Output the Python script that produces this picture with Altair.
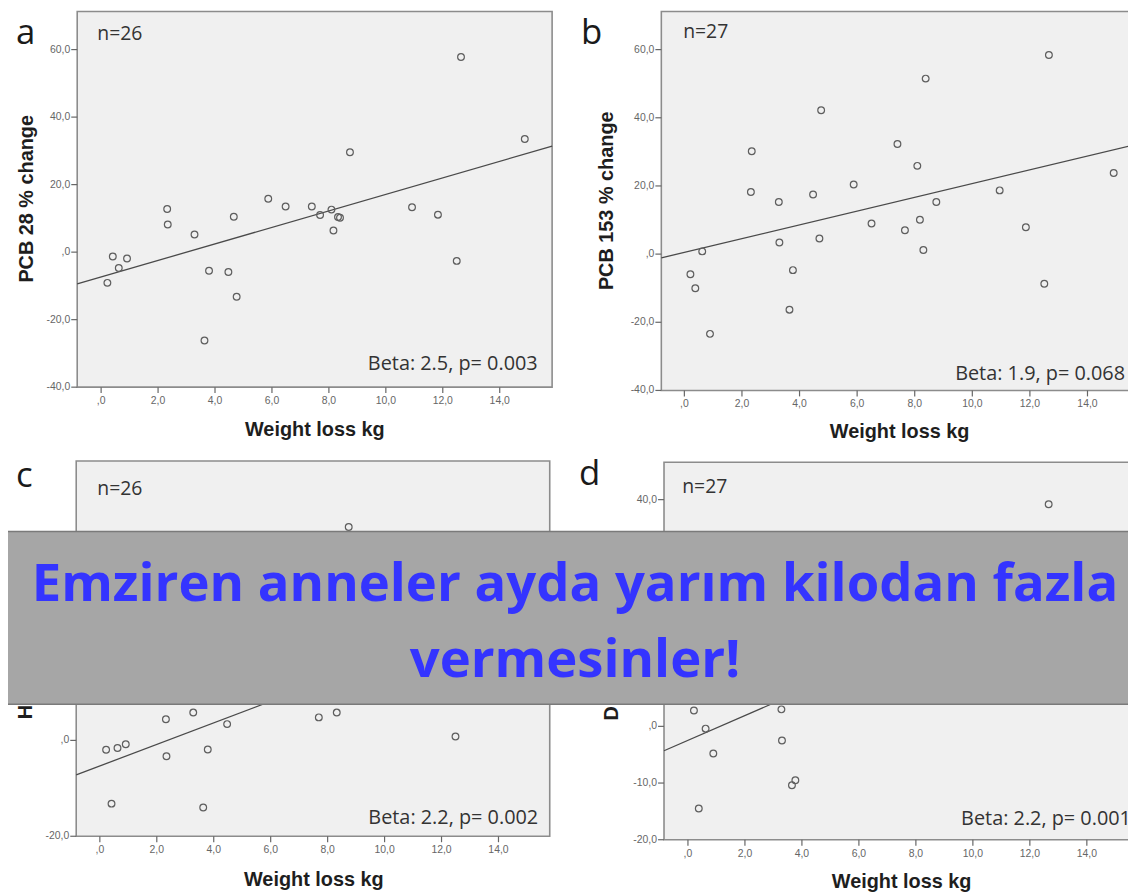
import altair as alt
import pandas as pd

# ---------------- data ----------------
panel_letters = ["a", "b", "c", "d"]
n_labels = ["n=26", "n=27", "n=26", "n=27"]
beta_labels = ["Beta: 2.5, p= 0.003", "Beta: 1.9, p= 0.068",
               "Beta: 2.2, p= 0.002", "Beta: 2.2, p= 0.001"]
y_titles = ["PCB 28 % change", "PCB 153 % change", "HCB % change", "DDE % change"]
x_title = "Weight loss kg"
banner_lines = ["Emziren anneler ayda yarım kilodan fazla", "vermesinler!"]

x_ticks = [0, 2, 4, 6, 8, 10, 12, 14]
x_tick_labels = [",0", "2,0", "4,0", "6,0", "8,0", "10,0", "12,0", "14,0"]
y_ticks_a = [-40, -20, 0, 20, 40, 60]
y_tick_labels_a = ["-40,0", "-20,0", ",0", "20,0", "40,0", "60,0"]
y_ticks_b = [-40, -20, 0, 20, 40, 60]
y_tick_labels_b = ["-40,0", "-20,0", ",0", "20,0", "40,0", "60,0"]
# only the ticks that are not hidden behind the banner
y_ticks_c = [-20, 0]
y_tick_labels_c = ["-20,0", ",0"]
y_ticks_d = [-20, -10, 0, 40]
y_tick_labels_d = ["-20,0", "-10,0", ",0", "40,0"]

a_x = [0.22, 0.41, 0.62, 0.91, 2.32, 2.34, 3.28, 3.63, 3.79, 4.47, 4.66, 4.76, 5.87,
       6.48, 7.40, 7.69, 8.09, 8.16, 8.32, 8.39, 8.74, 10.92, 11.83, 12.49, 12.64, 14.88]
a_y = [-9.1, -1.3, -4.7, -1.9, 12.8, 8.2, 5.2, -26.2, -5.5, -5.9, 10.5, -13.2, 15.8,
       13.5, 13.5, 11.0, 12.6, 6.4, 10.4, 10.2, 29.6, 13.3, 11.1, -2.6, 57.8, 33.5]

b_x = [0.21, 0.38, 0.62, 0.89, 2.34, 2.31, 3.28, 3.30, 3.65, 3.77, 4.47, 4.69, 4.75, 5.88,
       6.50, 7.40, 7.66, 8.09, 8.18, 8.30, 8.38, 8.75, 10.95, 11.86, 12.50, 12.66, 14.91]
b_y = [-5.9, -10.0, 0.8, -23.4, 30.2, 18.2, 15.3, 3.4, -16.3, -4.7, 17.5, 4.6, 42.2, 20.4,
       9.0, 32.3, 7.0, 25.9, 10.1, 1.2, 51.5, 15.3, 18.7, 7.9, -8.7, 58.4, 23.8]

# visible points only (the rest are hidden behind the banner)
c_x = [0.22, 0.41, 0.62, 0.91, 2.32, 2.34, 3.28, 3.63, 3.79, 4.47, 7.69, 8.32, 8.74, 12.49]
c_y = [-1.95, -13.2, -1.6, -0.8, 4.4, -3.3, 5.8, -14.0, -1.9, 3.4, 4.8, 5.8, 44.5, 0.8]

d_x = [0.21, 0.38, 0.62, 0.89, 3.28, 3.30, 3.65, 3.77, 12.66]
d_y = [2.8, -14.5, -0.4, -4.8, 3.0, -2.5, -10.4, -9.5, 39.2]

# fitted regression lines (end points)
fit_a_x = [-0.84, 15.84]
fit_a_y = [-9.4, 31.4]
fit_b_x = [-0.80, 15.80]
fit_b_y = [-1.1, 32.4]
fit_c_x = [-0.83, 15.80]
fit_c_y = [-7.2, 30.2]
fit_d_x = [-0.84, 15.80]
fit_d_y = [-4.3, 32.1]

# ---------------- layout ----------------
W, H = 1128, 888

LABEL_FONT = "Liberation Sans Narrow, Liberation Sans, sans-serif"
TEXT_FONT = "Open Sans, Noto Sans, sans-serif"
TITLE_FONT = "Liberation Sans, Arial, sans-serif"
TICK_LEN = 6

panels = [
    dict(px=a_x, py=a_y, fx=fit_a_x, fy=fit_a_y, yt=y_ticks_a, ytl=y_tick_labels_a,
         xdom=[-0.84, 15.84], ydom=[-40, 71.3], xr=[69.7, 548.0], yr=[378.7, 0.3],
         letter=(8, 33), n=(90, 29), beta=(533.5, 361), ytitle=(25, 189), xtitle=(309, 428)),
    dict(px=b_x, py=b_y, fx=fit_b_x, fy=fit_b_y, yt=y_ticks_b, ytl=y_tick_labels_b,
         xdom=[-0.80, 15.80], ydom=[-40, 71.2], xr=[658.0, 1139.4], yr=[382.0, 0.3],
         letter=(577, 33.5), n=(680, 27), beta=(1125, 371), ytitle=(609, 191), xtitle=(898, 430)),
    dict(px=c_x, py=c_y, fx=fit_c_x, fy=fit_c_y, yt=y_ticks_c, ytl=y_tick_labels_c,
         xdom=[-0.83, 15.80], ydom=[-20, 58.3], xr=[68.7, 545.6], yr=[831.0, 453.0],
         letter=(8, 479), n=(90, 487), beta=(534, 818.5), ytitle=(24, 642), xtitle=(308, 881)),
    dict(px=d_x, py=d_y, fx=fit_d_x, fy=fit_d_y, yt=y_ticks_d, ytl=y_tick_labels_d,
         xdom=[-0.84, 15.80], ydom=[-20, 46.6], xr=[660.7, 1138.2], yr=[834.5, 454.3],
         letter=(575, 477), n=(679, 485), beta=(1131, 820), ytitle=(614.5, 644), xtitle=(900, 883)),
]


def text_layer(label, pos, **kw):
    return alt.Chart(pd.DataFrame({"t": [label]})).mark_text(**kw).encode(
        x=alt.value(pos[0]), y=alt.value(pos[1]), text="t:N")


def build_panel(i, p):
    xs = alt.Scale(domain=p["xdom"], range=p["xr"], nice=False, zero=False)
    ys = alt.Scale(domain=p["ydom"], range=p["yr"], nice=False, zero=False)
    left, bottom = p["xr"][0], p["yr"][0]

    frame_df = pd.DataFrame({"x": [p["xdom"][0]], "x2": [p["xdom"][1]],
                             "y": [p["ydom"][0]], "y2": [p["ydom"][1]]})
    frame = alt.Chart(frame_df).mark_rect(fill="#f0f0f0", stroke="#8c8c8c",
                                          strokeWidth=1.6).encode(
        x=alt.X("x:Q", scale=xs, axis=None), x2="x2:Q",
        y=alt.Y("y:Q", scale=ys, axis=None), y2="y2:Q")

    xt_df = pd.DataFrame({"v": x_ticks, "lab": x_tick_labels})
    xticks = alt.Chart(xt_df).mark_rule(color="#666666", strokeWidth=1.2).encode(
        x=alt.X("v:Q", scale=xs, axis=None),
        y=alt.value(bottom), y2=alt.value(bottom + TICK_LEN))
    xlabels = alt.Chart(xt_df).mark_text(font=LABEL_FONT, fontSize=10.5, color="#666666",
                                         align="center", baseline="top").encode(
        x=alt.X("v:Q", scale=xs, axis=None), y=alt.value(bottom + TICK_LEN + 3),
        text="lab:N")

    yt_df = pd.DataFrame({"v": p["yt"], "lab": p["ytl"]})
    yticks = alt.Chart(yt_df).mark_rule(color="#666666", strokeWidth=1.2).encode(
        y=alt.Y("v:Q", scale=ys, axis=None),
        x=alt.value(left - TICK_LEN), x2=alt.value(left))
    ylabels = alt.Chart(yt_df).mark_text(font=LABEL_FONT, fontSize=10.5, color="#666666",
                                         align="right", baseline="middle").encode(
        y=alt.Y("v:Q", scale=ys, axis=None), x=alt.value(left - TICK_LEN - 1),
        text="lab:N")

    fit = alt.Chart(pd.DataFrame({"x": p["fx"], "y": p["fy"]})).mark_line(
        color="#4a4a4a", strokeWidth=1.3).encode(
        x=alt.X("x:Q", scale=xs, axis=None), y=alt.Y("y:Q", scale=ys, axis=None))

    pts = alt.Chart(pd.DataFrame({"x": p["px"], "y": p["py"]})).mark_point(
        shape="circle", filled=False, size=46, stroke="#5e5e5e", strokeWidth=1.2,
        opacity=1).encode(
        x=alt.X("x:Q", scale=xs, axis=None), y=alt.Y("y:Q", scale=ys, axis=None))

    letter = text_layer(panel_letters[i], p["letter"], font=TEXT_FONT, fontSize=35,
                        color="#1a1a1a", align="left", baseline="alphabetic")
    ntxt = text_layer(n_labels[i], p["n"], font=TEXT_FONT, fontSize=19.5,
                      color="#333333", align="left", baseline="alphabetic")
    beta = text_layer(beta_labels[i], p["beta"], font=TEXT_FONT, fontSize=20,
                      color="#333333", align="right", baseline="alphabetic")
    ytl = text_layer(y_titles[i], p["ytitle"], font=TITLE_FONT, fontSize=20,
                     fontWeight="bold", color="#1e1e1e", align="center",
                     baseline="alphabetic", angle=270)
    xtl = text_layer(x_title, p["xtitle"], font=TITLE_FONT, fontSize=20,
                     fontWeight="bold", color="#1e1e1e", align="center",
                     baseline="alphabetic")
    return alt.layer(frame, xticks, xlabels, yticks, ylabels, fit, pts,
                     letter, ntxt, beta, ytl, xtl)


layers = [build_panel(i, p) for i, p in enumerate(panels)]

banner = alt.Chart(pd.DataFrame({"t": [0]})).mark_rect(
    fill="#a6a6a6", stroke="#7a7a7a", strokeWidth=1.5).encode(
    x=alt.value(-4), x2=alt.value(W + 4), y=alt.value(524), y2=alt.value(698))

line1 = text_layer(banner_lines[0], (571, 594), font=TEXT_FONT, fontSize=53,
                   fontWeight="bold", color="#3434ff", align="center", baseline="alphabetic")
line2 = text_layer(banner_lines[1], (571, 671), font=TEXT_FONT, fontSize=53,
                   fontWeight="bold", color="#3434ff", align="center", baseline="alphabetic")

chart = alt.layer(*layers, banner, line1, line2).resolve_scale(
    x="independent", y="independent"
).properties(
    width=W, height=H, autosize="none", padding=0, background="white"
).configure_view(stroke=None)

chart.save("out.html", embed_options={"renderer": "svg", "actions": False})
